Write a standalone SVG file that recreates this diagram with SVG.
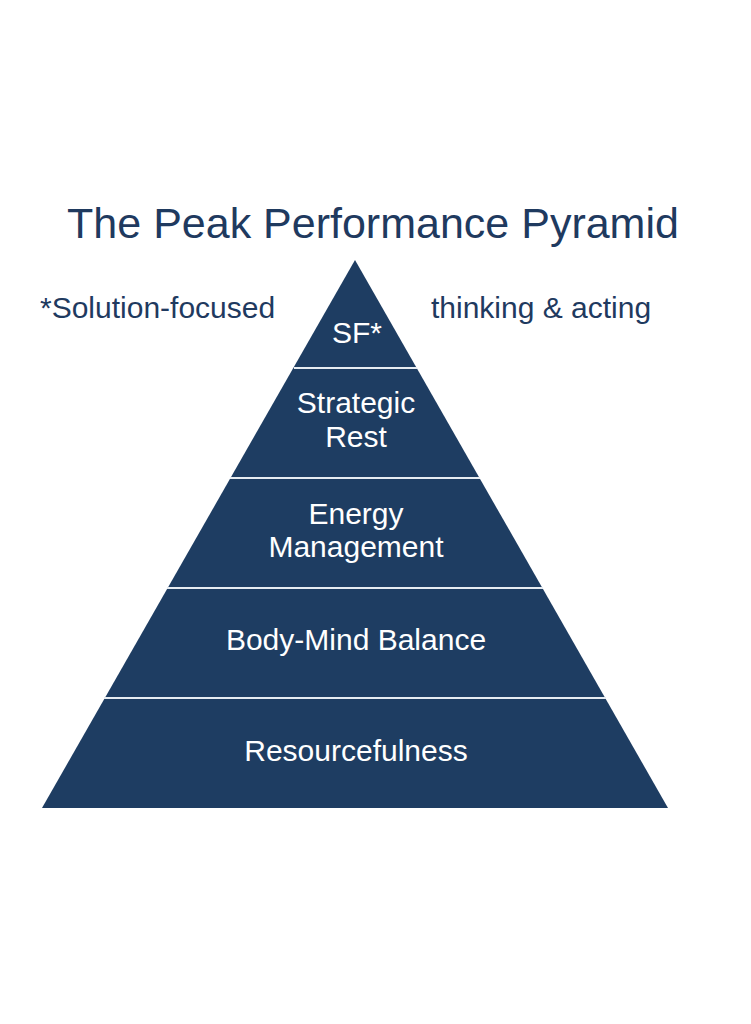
<svg xmlns="http://www.w3.org/2000/svg" width="751" height="1024" viewBox="0 0 751 1024">
<style>
text{font-family:"Liberation Sans",Arial,sans-serif}
.t{fill:#1f3a5f}
.w{fill:#fff;font-size:30px;text-anchor:middle}
.sep{stroke:#e6ecf2;stroke-width:2}
</style>
<rect width="751" height="1024" fill="#fff"/>
<text class="t" x="373" y="238" font-size="43" text-anchor="middle">The Peak Performance Pyramid</text>
<text class="t" x="40" y="318" font-size="30">*Solution-focused</text>
<text class="t" x="431" y="318" font-size="30">thinking &amp; acting</text>
<g id="pyramid">
<polygon points="355,260 668,808 42,808" fill="#1e3d62"/>
</g>
<g id="connectors">
<line class="sep" x1="294" y1="368" x2="417" y2="368"/>
<line class="sep" x1="230" y1="478" x2="480" y2="478"/>
<line class="sep" x1="167" y1="588" x2="543" y2="588"/>
<line class="sep" x1="104" y1="698" x2="606" y2="698"/>
</g>
<g id="sf"><text class="w" x="357" y="343">SF*</text></g>
<g id="rest"><text class="w" x="356" y="413">Strategic</text><text class="w" x="356" y="447">Rest</text></g>
<g id="energy"><text class="w" x="356" y="524">Energy</text><text class="w" x="356" y="557">Management</text></g>
<g id="body"><text class="w" x="356" y="650">Body-Mind Balance</text></g>
<g id="res"><text class="w" x="356" y="761">Resourcefulness</text></g>
</svg>
